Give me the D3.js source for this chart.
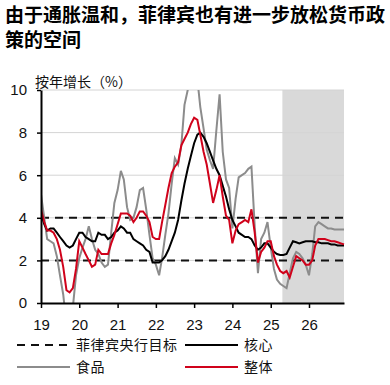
<!DOCTYPE html>
<html lang="zh">
<head>
<meta charset="UTF-8">
<title>菲律宾通胀</title>
<style>
  body { margin: 0; background: #fff; }
  svg text { font-family: "Noto Sans CJK SC", "Liberation Sans", sans-serif; }
  .num { font-family: "Liberation Sans", Arial, sans-serif; }
</style>
</head>
<body>
<div id="chart"></div>
<script src="https://d3js.org/d3.v7.min.js"></script>
<script>
// monthly data, Jan 2019 .. Dec 2026 (y/y %)
var startYear = 2019;
var yTicks = [0, 2, 4, 6, 8, 10];
var targetBand = [2, 4];
var forecastStart = new Date(2025, 3, 22);

var headline = [
  4.4, 3.8, 3.4, 3.4, 3.3, 3.0, 2.5, 1.7, 0.6, 0.5, 0.7, 1.6,
  2.9, 2.6, 2.3, 2.0, 1.7, 1.8, 2.5, 2.3, 2.3, 2.3, 2.8, 3.2,
  3.7, 4.2, 4.2, 4.2, 4.1, 3.8, 4.0, 4.3, 4.3, 4.1, 3.8, 3.1,
  3.0, 3.0, 3.8, 4.6, 5.4, 6.1, 6.4, 6.6, 7.4, 7.7, 8.0, 8.4,
  8.7, 8.6, 7.9, 7.1, 6.5, 5.6, 4.7, 5.3, 6.0, 5.0, 4.1, 3.9,
  2.8, 3.4, 3.7, 3.8, 3.9, 3.8, 4.4, 3.3, 1.9, 2.4, 2.6, 2.9,
  2.9, 2.2, 1.8, 1.5, 1.4, 1.5, 1.2, 1.7, 2.2, 2.1, 2.0, 1.8,
  1.8, 2.0, 2.7, 3.0, 3.0, 3.0, 2.95, 2.9, 2.9, 2.85, 2.8, 2.75
];
var core = [
  4.2, 3.7, 3.4, 3.5, 3.5, 3.3, 3.1, 2.9, 2.7, 2.6, 2.7, 3.0,
  3.3, 3.3, 3.1, 3.0, 2.9, 2.9, 3.3, 3.2, 3.2, 3.0, 3.1, 3.3,
  3.4, 3.6, 3.5, 3.3, 3.3, 3.0, 2.9, 2.8, 2.7, 2.5, 2.4, 1.9,
  1.9, 1.9, 2.0, 2.2, 2.5, 2.9, 3.3, 3.9, 4.8, 5.6, 6.3, 6.9,
  7.5, 7.9, 8.0, 7.8, 7.5, 7.1, 6.7, 6.3, 6.0, 5.5, 5.0, 4.4,
  3.9, 3.6, 3.3, 3.2, 3.1, 3.1, 3.0, 2.7, 2.5, 2.6, 2.8, 2.8,
  2.6, 2.4, 2.3, 2.25, 2.25, 2.3, 2.6, 2.9, 2.85, 2.8, 2.85, 2.9,
  2.9, 2.9, 2.85, 2.85, 2.8, 2.8, 2.8, 2.75, 2.75, 2.7, 2.7, 2.7
];
var food = [
  5.1, 4.0, 3.0, 2.9, 2.8, 2.2, 1.3, 0.4, -1.0, -1.5, -0.2, 1.3,
  2.1, 2.6, 3.0, 3.6, 3.0, 2.5, 2.3, 1.9, 1.7, 1.8, 3.3, 4.7,
  5.3, 6.2, 5.8, 4.5, 3.9, 4.0, 4.5, 5.3, 5.4, 4.4, 3.2, 2.1,
  1.8, 1.3, 2.1, 3.2, 4.2, 5.6, 6.8, 6.5, 7.4, 9.3, 10.0, 10.6,
  11.2, 10.5, 9.2, 8.2, 7.2, 6.7, 6.3, 8.1, 9.8, 7.1, 5.8, 5.4,
  3.5, 4.9, 5.9, 6.0, 6.1, 6.3, 6.4, 3.6, 1.4, 3.0, 3.3, 3.8,
  2.6, 1.6, 1.1, 0.9, 0.8, 0.7, 1.4, 2.1, 2.4, 2.3, 2.1, 1.8,
  1.3, 2.3, 3.6, 3.8, 3.7, 3.6, 3.5, 3.5, 3.45, 3.45, 3.45, 3.45
];

var width = 390, height = 385;
var plotLeft = 41, plotRight = 344, plotTop = 90, plotBottom = 303;

var svg = d3.select("#chart").append("svg")
    .attr("width", width)
    .attr("height", height);

// title
svg.append("text").attr("x", 5).attr("y", 22)
   .style("font-size", "19px").style("font-weight", "700")
   .text("由于通胀温和，菲律宾也有进一步放松货币政");
svg.append("text").attr("x", 5).attr("y", 47)
   .style("font-size", "19px").style("font-weight", "700")
   .text("策的空间");
svg.append("text").attr("x", 35).attr("y", 87)
   .style("font-size", "14px").attr("fill", "#111")
   .text("按年增长（%）");

var dates = headline.map(function(d, i) { return new Date(startYear, i, 1); });

var x = d3.scaleTime()
    .domain([dates[0], dates[dates.length - 1]])
    .range([plotLeft, plotRight]);
var y = d3.scaleLinear().domain([0, 10]).range([plotBottom, plotTop]);

// forecast shading
svg.append("rect")
   .attr("x", x(forecastStart)).attr("y", y(10))
   .attr("width", plotRight - x(forecastStart))
   .attr("height", y(0) - y(10))
   .attr("fill", "#d9d9d9");

// gridlines
svg.selectAll(".grid").data(yTicks.filter(function(d) { return d > 0; }))
   .enter().append("line")
   .attr("x1", plotLeft).attr("x2", plotRight)
   .attr("y1", function(d) { return y(d); })
   .attr("y2", function(d) { return y(d); })
   .attr("stroke", "#d4d4d4").attr("stroke-width", 1);

// central bank target
svg.selectAll(".target").data(targetBand)
   .enter().append("line")
   .attr("x1", plotLeft).attr("x2", plotRight)
   .attr("y1", function(d) { return y(d); })
   .attr("y2", function(d) { return y(d); })
   .attr("stroke", "#111").attr("stroke-width", 2)
   .attr("stroke-dasharray", "8,6");

svg.append("clipPath").attr("id", "plotclip")
   .append("rect").attr("x", plotLeft).attr("y", plotTop)
   .attr("width", plotRight - plotLeft + 1).attr("height", plotBottom - plotTop);

var line = d3.line()
    .x(function(d, i) { return x(dates[i]); })
    .y(function(d) { return y(d); });

var g = svg.append("g").attr("clip-path", "url(#plotclip)");
g.append("path").attr("d", line(food))
 .attr("fill", "none").attr("stroke", "#8c8c8c").attr("stroke-width", 2);
g.append("path").attr("d", line(core))
 .attr("fill", "none").attr("stroke", "#000").attr("stroke-width", 2);
g.append("path").attr("d", line(headline))
 .attr("fill", "none").attr("stroke", "#d0021b").attr("stroke-width", 2);

// axes
var xAxis = svg.append("g")
    .attr("transform", "translate(0," + plotBottom + ")")
    .call(d3.axisBottom(x)
        .ticks(d3.timeYear.every(1))
        .tickFormat(d3.timeFormat("%y"))
        .tickSize(5).tickSizeOuter(0).tickPadding(11));
var yAxis = svg.append("g")
    .attr("transform", "translate(" + plotLeft + ",0)")
    .call(d3.axisLeft(y).tickValues(yTicks)
        .tickSize(4).tickSizeOuter(0).tickPadding(10));

[xAxis, yAxis].forEach(function(ax) {
  ax.select(".domain").attr("stroke", "#000").attr("stroke-width", 2);
  ax.selectAll(".tick line").attr("stroke", "#000").attr("stroke-width", 1.5);
  ax.selectAll(".tick text").attr("class", "num")
    .style("font-size", "15px").attr("fill", "#111");
});

// legend
var legend = [
  { label: "菲律宾央行目标", color: "#111", dash: "8,6", lx: 17, ly: 345 },
  { label: "核心", color: "#000", dash: null, lx: 185, ly: 345 },
  { label: "食品", color: "#8c8c8c", dash: null, lx: 17, ly: 367 },
  { label: "整体", color: "#d0021b", dash: null, lx: 185, ly: 367 }
];
var lg = svg.selectAll(".lg").data(legend).enter().append("g")
    .attr("transform", function(d) { return "translate(" + d.lx + "," + d.ly + ")"; });
lg.append("line").attr("x1", 0).attr("x2", 53)
  .attr("stroke", function(d) { return d.color; })
  .attr("stroke-width", 2)
  .attr("stroke-dasharray", function(d) { return d.dash; });
lg.append("text").attr("x", 59).attr("y", 5)
  .style("font-size", "14px").style("letter-spacing", "0.5px")
  .attr("fill", "#111")
  .text(function(d) { return d.label; });
</script>
</body>
</html>
